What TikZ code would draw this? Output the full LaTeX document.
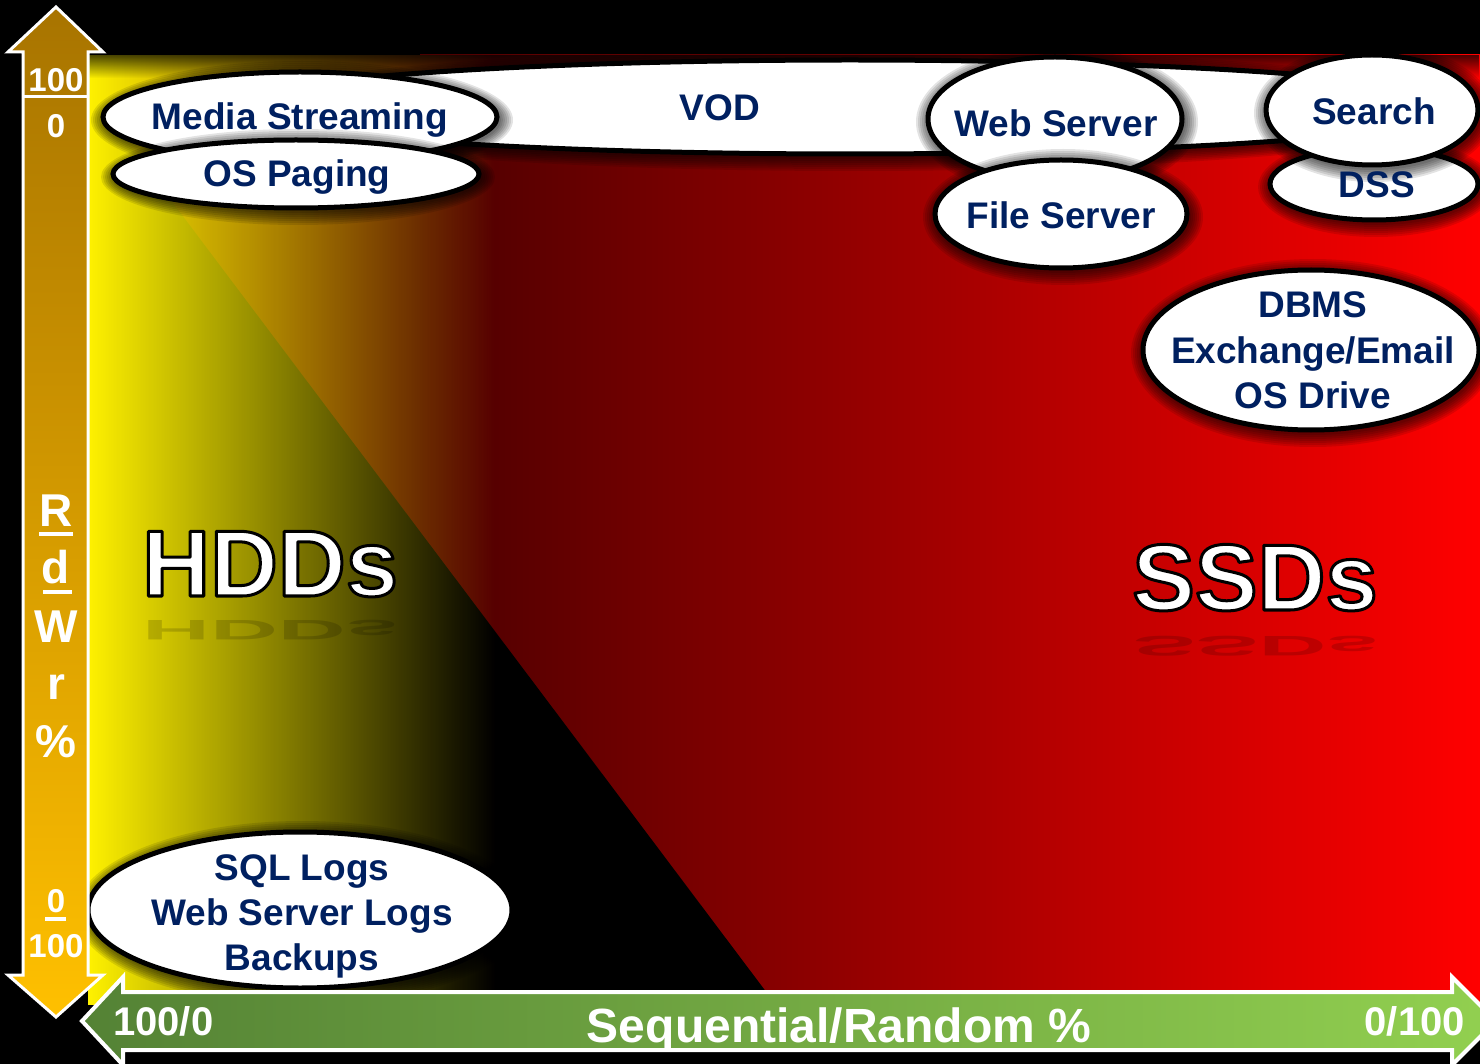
\documentclass[tikz,border=0pt]{standalone}
\usepackage{fontspec}
\setmainfont{Liberation Sans}
\usetikzlibrary{shapes.geometric,fadings}
\definecolor{navy}{HTML}{002060}
\definecolor{goldtop}{HTML}{A87400}
\definecolor{goldbot}{HTML}{FFC000}
\definecolor{gdark}{HTML}{548235}
\definecolor{glight}{HTML}{92D050}
\definecolor{dred}{HTML}{4A0000}
\definecolor{bred}{HTML}{FF0000}
\tikzfading[name=yfade, left color=transparent!0, right color=transparent!100]
\tikzfading[name=topfade, top color=transparent!30, bottom color=transparent!100]
\tikzset{
  bubble/.style={ellipse, draw=black, line width=5pt, fill=white, inner sep=0pt},
  lbl/.style={text=navy, font=\bfseries\fontsize{37}{45}\selectfont, inner sep=0pt, anchor=base},
  axl/.style={text=white, font=\bfseries\fontsize{33}{36}\selectfont, inner sep=0pt, anchor=base},
  axv/.style={text=white, font=\bfseries\fontsize{46}{50}\selectfont, inner sep=0pt, anchor=base},
  gl/.style={text=white, font=\bfseries\fontsize{40}{44}\selectfont, inner sep=0pt},
  gtitle/.style={text=white, font=\bfseries\fontsize{48}{52}\selectfont, inner sep=0pt, anchor=base},
  big/.style={font=\bfseries\fontsize{94}{100}\selectfont, inner sep=0pt, anchor=base west},
  uline/.style={white, line width=3.5pt},
}
\newcommand\bub[5]{%
  \foreach \k in {1,...,7}{\fill[black,opacity=0.11] (#2+2,#3+3) ellipse [x radius={#4+2*\k}, y radius={#5+2*\k}];}
  \node[bubble, minimum width={2*#4}, minimum height={2*#5}] (#1) at (#2,#3) {};
}
% white text with a black stroked outline (PDF text render mode 2)
\newcommand\strokedtext[1]{\special{pdf:literal direct 2 Tr 0 0 0 RG 3 w 1 j}#1\special{pdf:literal direct 0 Tr 0.4 w 0 j}}
\begin{document}
\begin{tikzpicture}[x=1pt,y=-1pt]
\useasboundingbox (0,0) rectangle (1480,1064);
\clip (0,0) rectangle (1480,1064);
\fill[black] (0,0) rectangle (1480,1064);
% chart background
\fill[dred] (88,55) rectangle (421,1005);
\shade[left color=dred, right color=bred] (420,55) rectangle (1480,1005);
\fill[black] (88,90) -- (88,1005) -- (776,1005) -- cycle;
\fill[yellow, path fading=yfade] (88,55) rectangle (495,1005);
\fill[black, path fading=topfade] (88,55) rectangle (1480,78);
% faint reflections
\begin{scope}[shift={(142,620)}, yscale=-0.3]
  \node[big, text=black, opacity=0.16, transform shape] (hddr) at (0,0) {HDDs};
\end{scope}
\begin{scope}[shift={(1133,636)}, yscale=-0.3]
  \node[big, text=black, opacity=0.16, transform shape] (ssdr) at (0,0) {SSDs};
\end{scope}
% big labels
\node[big, text=white] (hdd) at (142,596) {\strokedtext{HDDs}};
\node[big, text=white] (ssd) at (1132,610) {\strokedtext{SSDs}};
% bubbles
\bub{vod}{850}{107}{620}{47}
\bub{ms}{300}{117}{197}{45}
\bub{osp}{296}{174}{183}{34}
\bub{web}{1055}{119}{127}{62}
\bub{file}{1061}{214}{126}{54}
\bub{dss}{1374}{184}{104}{36}
\bub{search}{1372}{110}{106}{55}
\bub{dbms}{1311}{350}{168}{80}
\bub{sql}{300}{910}{212}{78}
% bubble texts
\node[lbl] (vodt) at (720,121) {VOD};
\node[lbl] (mst) at (300,130) {Media Streaming};
\node[lbl] (ospt) at (297,187) {OS Paging};
\node[lbl] (webt) at (1056,137) {Web Server};
\node[lbl] (filet) at (1061,229) {File Server};
\node[lbl] (searcht) at (1374,125) {Search};
\node[lbl] (dsst) at (1377,198) {DSS};
\node[lbl] (dbms1) at (1313,318) {DBMS};
\node[lbl] (dbms2) at (1313,363) {Exchange/Email};
\node[lbl] (dbms3) at (1313,408) {OS Drive};
\node[lbl] (sql1) at (302,880) {SQL Logs};
\node[lbl] (sql2) at (302,925) {Web Server Logs};
\node[lbl] (sql3) at (302,970) {Backups};
% vertical arrow
\shade[top color=goldtop, bottom color=goldbot, draw=white, line width=3pt, line join=miter]
  (56,7) -- (103,52) -- (88,52) -- (88,975) -- (103,975) -- (56,1017) -- (8,975) -- (23,975) -- (23,52) -- (8,52) -- cycle;
\node[axl] (t100) at (56,92) {100};
\draw[white, line width=3pt] (24,97) -- (87,97);
\node[axl] (t0) at (56,138) {0};
\node[axv] (vR) at (56,526) {R};
\draw[uline] (39,534) -- (73,534);
\node[axv] (vd) at (56,583) {d};
\draw[uline] (43,592) -- (72,592);
\node[axv] (vW) at (56,642) {W};
\node[axv] (vr) at (56,699) {r};
\node[axv] (vp) at (56,757) {\%};
\node[axl] (b0) at (56,912) {0};
\draw[uline] (45,919) -- (66,919);
\node[axl] (b100) at (56,957) {100};
% horizontal arrow
\shade[left color=gdark, right color=glight, draw=white, line width=4pt, line join=miter]
  (82,1021) -- (123,977) -- (123,992) -- (1452,992) -- (1452,977) -- (1496,1021) -- (1452,1065) -- (1452,1050) -- (123,1050) -- (123,1065) -- cycle;
\node[gl, anchor=base west] (l100) at (113,1035) {100/0};
\node[gl, anchor=base east] (r100) at (1465,1035) {0/100};
\node[gtitle] (seq) at (839,1042) {Sequential/Random \%};
\end{tikzpicture}
\end{document}
